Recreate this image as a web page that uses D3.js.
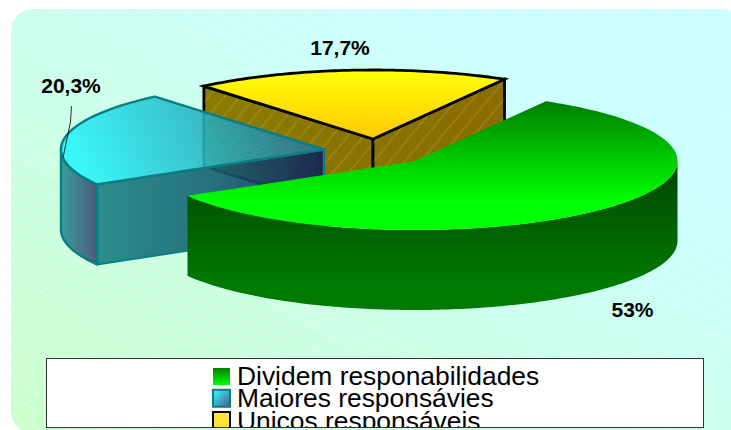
<!DOCTYPE html>
<html><head><meta charset="utf-8">
<script src="https://cdnjs.cloudflare.com/ajax/libs/d3/7.8.5/d3.min.js"></script>
<style>html,body{margin:0;padding:0;background:#fff;overflow:hidden}svg{display:block}</style>
</head><body><div id="chart"></div>
<script>
const categories = ["Dividem responabilidades", "Maiores responsávies", "Unicos responsáveis"];
const values = [53, 20.3, 17.7];
const valueLabels = ["53%", "20,3%", "17,7%"];

const W = 731, H = 430, RX = 263, RY = 69, DEPTH = 80;
const DEG = Math.PI / 180;
const centers = [[414.5, 161], [324, 149.5], [373, 139]];
const svg = d3.select("#chart").append("svg").attr("width", W).attr("height", H);
const defs = svg.append("defs");

function grad(id, x1, y1, x2, y2, stops, user) {
  const g = defs.append("linearGradient").attr("id", id)
    .attr("x1", x1).attr("y1", y1).attr("x2", x2).attr("y2", y2);
  if (user) g.attr("gradientUnits", "userSpaceOnUse");
  stops.forEach(s => g.append("stop").attr("offset", s[0]).attr("stop-color", s[1]));
}
function hatch(id, size, rot, color, op, w) {
  const p = defs.append("pattern").attr("id", id).attr("patternUnits", "userSpaceOnUse")
    .attr("width", size).attr("height", size).attr("patternTransform", `rotate(${rot})`);
  p.append("line").attr("x1", 0).attr("x2", size).attr("y1", size / 2).attr("y2", size / 2)
    .attr("stroke", color).attr("stroke-opacity", op).attr("stroke-width", w);
}
grad("bg", 0, 1, 1, 0, [[0, "#ccffcc"], [0.75, "#ccffff"], [1, "#ccffff"]]);
grad("gTop", 0, 103, 0, 200, [[0, "#008000"], [1, "#00ff00"]], true);
grad("gSide", 0, 170, 0, 285, [[0, "#004800"], [1, "#007a00"]], true);
grad("bTop", 90, 185, 300, 100, [[0, "#22f4f8"], [0.5, "#22b8c6"], [1, "#256e92"]], true);
grad("bSide", 61, 0, 97, 0, [[0, "#3a9e9a"], [1, "#4a5a80"]], true);
grad("bInner", 97, 0, 326, 0, [[0, "#0f7c7c"], [0.5, "#0c5a6c"], [1, "#081450"]], true);
grad("yTop", 0, 70, 0, 140, [[0, "#ffff00"], [1, "#ffc800"]], true);
grad("yFace", 204, 80, 505, 220, [[0, "#8a7c00"], [1, "#8a6a00"]], true);
grad("swG", 0, 0, 0, 1, [[0, "#008000"], [1, "#00ff00"]]);
grad("swB", 0, 0, 1, 1, [[0, "#33ffff"], [1, "#4a5a90"]]);
grad("swY", 0, 0, 0, 1, [[0, "#ffe840"], [1, "#ffe030"]]);
hatch("hBg", 15, 30, "#ffffff", 0.3, 1);
hatch("hFace", 12, -50, "#ffffff", 0.2, 1);
hatch("hTop", 4, -15, "#ffffff", 0.07, 1);
hatch("hFine", 2, 45, "#ffffff", 0.08, 1);

const clip = defs.append("clipPath").attr("id", "legClip");
clip.append("rect").attr("x", 46).attr("y", 358).attr("width", 658).attr("height", 69);

// background panel
svg.append("rect").attr("x", 11).attr("y", 9).attr("width", 732).attr("height", 424)
  .attr("rx", 22).attr("fill", "url(#bg)");
svg.append("rect").attr("x", 11).attr("y", 9).attr("width", 732).attr("height", 424)
  .attr("rx", 22).attr("fill", "url(#hBg)");

// pie layout: the values are normalised over their own total
const arcs = d3.pie().sort(null).startAngle(30 * DEG).endAngle(390 * DEG)(values);

function projector(i) {
  const [cx, cy] = centers[i];
  const sx = d3.scaleLinear([-1, 1], [cx - RX, cx + RX]);
  const sy = d3.scaleLinear([-1, 1], [cy - RY, cy + RY]);
  return (a, dz = 0) => [sx(Math.sin(a)), sy(-Math.cos(a)) + dz];
}
const line = d3.line();
function samples(a0, a1) {
  const n = Math.max(2, Math.ceil((a1 - a0) / (1 * DEG)));
  return d3.range(n + 1).map(k => a0 + (a1 - a0) * k / n);
}
function topPath(i) {
  const p = projector(i), d = arcs[i];
  return line([centers[i], ...samples(d.startAngle, d.endAngle).map(a => p(a))]) + "Z";
}
function outerPath(i) {
  const p = projector(i), d = arcs[i];
  const a0 = Math.max(d.startAngle, 90 * DEG), a1 = Math.min(d.endAngle, 270 * DEG);
  if (a1 <= a0) return null;
  const s = samples(a0, a1);
  return line([...s.map(a => p(a)), ...s.slice().reverse().map(a => p(a, DEPTH))]) + "Z";
}
function facePath(i, a) {
  const p = projector(i), c = centers[i];
  return line([c, p(a), p(a, DEPTH), [c[0], c[1] + DEPTH]]) + "Z";
}

// yellow slice (back)
const Y = 2, B = 1, G = 0;
const gy = svg.append("g").attr("stroke", "#000").attr("stroke-width", 2.8).attr("stroke-linejoin", "miter");
[arcs[Y].startAngle, arcs[Y].endAngle].forEach(a => {
  gy.append("path").attr("d", facePath(Y, a)).attr("fill", "url(#yFace)");
  gy.append("path").attr("d", facePath(Y, a)).attr("fill", "url(#hFace)").attr("stroke", "none");
});
gy.append("path").attr("d", topPath(Y)).attr("fill", "url(#yTop)");
gy.append("path").attr("d", topPath(Y)).attr("fill", "url(#hTop)").attr("stroke", "none");

// teal slice (translucent)
const gb = svg.append("g").attr("stroke", "#0a7c84").attr("stroke-width", 2.4).attr("stroke-linejoin", "round");
gb.append("path").attr("d", facePath(B, arcs[B].startAngle)).attr("fill", "url(#bInner)").attr("fill-opacity", 0.9);
gb.append("path").attr("d", facePath(B, arcs[B].startAngle)).attr("fill", "url(#hFine)").attr("stroke", "none");
gb.append("path").attr("d", outerPath(B)).attr("fill", "url(#bSide)");
gb.append("path").attr("d", topPath(B)).attr("fill", "url(#bTop)").attr("fill-opacity", 0.88);
gb.append("path").attr("d", topPath(B)).attr("fill", "url(#hTop)").attr("stroke", "none");

// green slice (front)
svg.append("path").attr("d", outerPath(G)).attr("fill", "url(#gSide)");
svg.append("path").attr("d", topPath(G)).attr("fill", "url(#gTop)");

// value labels
const labelPos = [[632.5, 317], [71, 93], [340, 55]];
svg.append("g").selectAll("text").data(valueLabels).join("text")
  .attr("x", (d, i) => labelPos[i][0]).attr("y", (d, i) => labelPos[i][1])
  .attr("text-anchor", "middle").attr("font-family", "Liberation Sans")
  .attr("font-weight", "bold").attr("font-size", 21).attr("fill", "#000").text(d => d);
const lp = projector(B)(arcs[B].startAngle + 0.29 * (arcs[B].endAngle - arcs[B].startAngle));
svg.append("path").attr("fill", "none").attr("stroke", "#000").attr("stroke-width", 0.8)
  .attr("d", line([[71.5, 106], [70.5, 122], lp]));

// legend
svg.append("rect").attr("x", 46.5).attr("y", 358.5).attr("width", 657).attr("height", 69)
  .attr("fill", "#fff").attr("stroke", "#333").attr("stroke-width", 1);
const leg = svg.append("g").attr("clip-path", "url(#legClip)");
const legY = d3.scalePoint().domain(categories).range([385, 429.5]);
const swFill = ["url(#swG)", "url(#swB)", "url(#swY)"];
const swStroke = ["none", "#0a7c84", "#000"];
leg.selectAll("rect.sw").data(categories).join("rect").attr("class", "sw")
  .attr("x", 213).attr("y", (d, i) => legY(d) - (i ? 17.5 : 17))
  .attr("width", 17).attr("height", 17)
  .attr("fill", (d, i) => swFill[i]).attr("stroke", (d, i) => swStroke[i]).attr("stroke-width", 2);
leg.selectAll("text").data(categories).join("text")
  .attr("x", 237).attr("y", d => legY(d)).attr("font-family", "Liberation Sans")
  .attr("font-size", 26.4).attr("fill", "#000").text(d => d);
</script></body></html>
